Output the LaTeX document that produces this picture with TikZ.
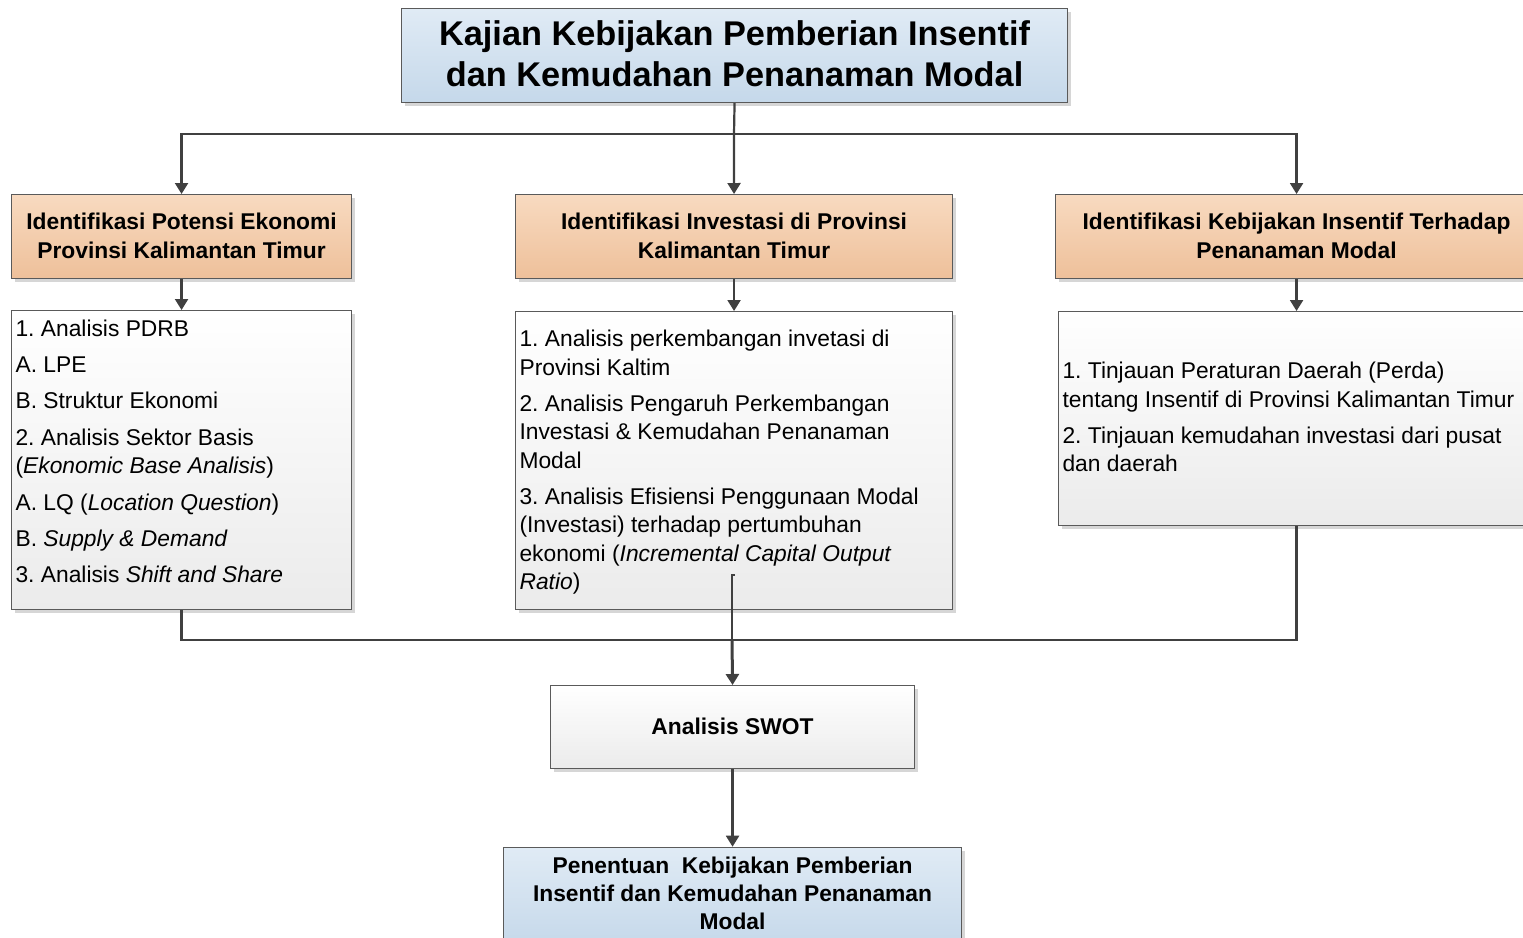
\documentclass[tikz,border=0pt]{standalone}
\usepackage{fontspec}
\setmainfont{Liberation Sans}
\usetikzlibrary{shadows,arrows.meta}
\definecolor{linec}{HTML}{404040}
\definecolor{bordc}{HTML}{5A5A5A}
\definecolor{blueT}{HTML}{E0EBF5}
\definecolor{blueB}{HTML}{C5D8EA}
\definecolor{orT}{HTML}{F8DAC0}
\definecolor{orB}{HTML}{EEC09A}
\definecolor{grT}{HTML}{FFFFFF}
\definecolor{grB}{HTML}{EBEBEB}
\frenchspacing
% #1 height, #2 width, #3 alignment, #4 first baseline from top, #5 content
\newcommand{\dgbox}[5]{\parbox[c][#1][t]{#2}{\frenchspacing#3\vspace*{\dimexpr#4-26pt\relax}\leavevmode\rule{0pt}{26pt}#5}}
\tikzset{
  boxbase/.style={draw=bordc, line width=1.1pt, inner xsep=4pt, inner ysep=0pt, anchor=north west,
    drop shadow={shadow xshift=3.5pt, shadow yshift=-3.5pt, fill=black!16, opacity=1}},
  bluebox/.style={boxbase, top color=blueT, bottom color=blueB},
  orbox/.style={boxbase, top color=orT, bottom color=orB, font=\bfseries\fontsize{22.8pt}{29.3pt}\selectfont},
  listbox/.style={boxbase, top color=grT, bottom color=grB},
  conn/.style={draw=linec, line width=2.2pt},
  arrow/.style={conn, -{Triangle[width=13pt,length=11pt]}}
}
\begin{document}
\begin{tikzpicture}[x=1pt,y=-1pt]
\useasboundingbox (0,0) rectangle (1523,937);
\clip (0,0) rectangle (1523,937);

\node[bluebox, font=\bfseries\fontsize{34.3pt}{41pt}\selectfont] (top) at (401,8)
  {\dgbox{94pt}{658pt}{\centering}{36.7pt}{Kajian Kebijakan Pemberian Insentif\\dan Kemudahan Penanaman Modal}};

\node[orbox] (o1) at (11,194)
  {\dgbox{84pt}{332pt}{\centering}{35pt}{Identifikasi Potensi Ekonomi\\Provinsi Kalimantan Timur}};
\node[orbox] (o2) at (515,194)
  {\dgbox{84pt}{429pt}{\centering}{35pt}{Identifikasi Investasi di Provinsi\\Kalimantan Timur}};
\node[orbox] (o3) at (1055,194)
  {\dgbox{84pt}{474pt}{\centering}{35pt}{Identifikasi Kebijakan Insentif Terhadap\\Penanaman Modal}};

\node[listbox, font=\fontsize{22.8pt}{28.7pt}\selectfont] (l1) at (11,310)
  {\dgbox{299pt}{332pt}{\raggedright}{26pt}{1. Analisis PDRB\\[7.5pt]
   A. LPE\\[7.5pt]
   B. Struktur Ekonomi\\[7.5pt]
   2. Analisis Sektor Basis\\
   (\textit{Ekonomic Base Analisis})\\[7.5pt]
   A. LQ (\textit{Location Question})\\[7.5pt]
   B. \textit{Supply \& Demand}\\[7.5pt]
   3. Analisis \textit{Shift and Share}}};

\node[listbox, font=\fontsize{22.8pt}{28.5pt}\selectfont] (l2) at (515,311)
  {\dgbox{298pt}{429pt}{\raggedright}{35pt}{1. Analisis perkembangan invetasi di\\
   Provinsi Kaltim\\[7.5pt]
   2. Analisis Pengaruh Perkembangan\\
   Investasi \& Kemudahan Penanaman\\
   Modal\\[7.5pt]
   3. Analisis Efisiensi Penggunaan Modal\\
   (Investasi) terhadap pertumbuhan\\
   ekonomi (\textit{Incremental Capital Output}\\
   \textit{Ratio})}};

\node[listbox, font=\fontsize{22.8pt}{28.5pt}\selectfont] (l3) at (1058,311)
  {\dgbox{214pt}{468pt}{\raggedright}{67.3pt}{1. Tinjauan Peraturan Daerah (Perda)\\
   tentang Insentif di Provinsi Kalimantan Timur\\[7.5pt]
   2. Tinjauan kemudahan investasi dari pusat\\
   dan daerah}};

\node[listbox, font=\bfseries\fontsize{22.8pt}{29pt}\selectfont] (swot) at (550,685)
  {\dgbox{83pt}{356pt}{\centering}{49pt}{Analisis SWOT}};

\node[bluebox, font=\bfseries\fontsize{22.8pt}{28.3pt}\selectfont] (bot) at (503,846.7)
  {\dgbox{100pt}{450pt}{\centering}{26pt}{Penentuan\ \ Kebijakan Pemberian\\Insentif dan Kemudahan Penanaman\\Modal}};

% connectors
\coordinate (j1) at (734,134);
\coordinate (j2) at (732,640);
\coordinate (m) at (732,575);
\draw[conn] (top.south) -- (j1);
\draw[arrow] (j1) -| (o1.north);
\draw[arrow] (j1) -- (o2.north);
\draw[arrow] (j1) -| (o3.north);
\draw[arrow] (o1.south) -- (l1.north);
\draw[arrow] (o2.south) -- (l2.north);
\draw[arrow] (o3.south) -- (l3.north);
\draw[conn] (l1.south) |- (j2) -| (l3.south);
\draw[conn, line width=1.8pt] ([xshift=3pt]m) -- (m) -- (j2);
\draw[arrow, line width=3pt] (j2) -- (swot.north);
\draw[arrow] (swot.south) -- (bot.north);
\end{tikzpicture}
\end{document}
